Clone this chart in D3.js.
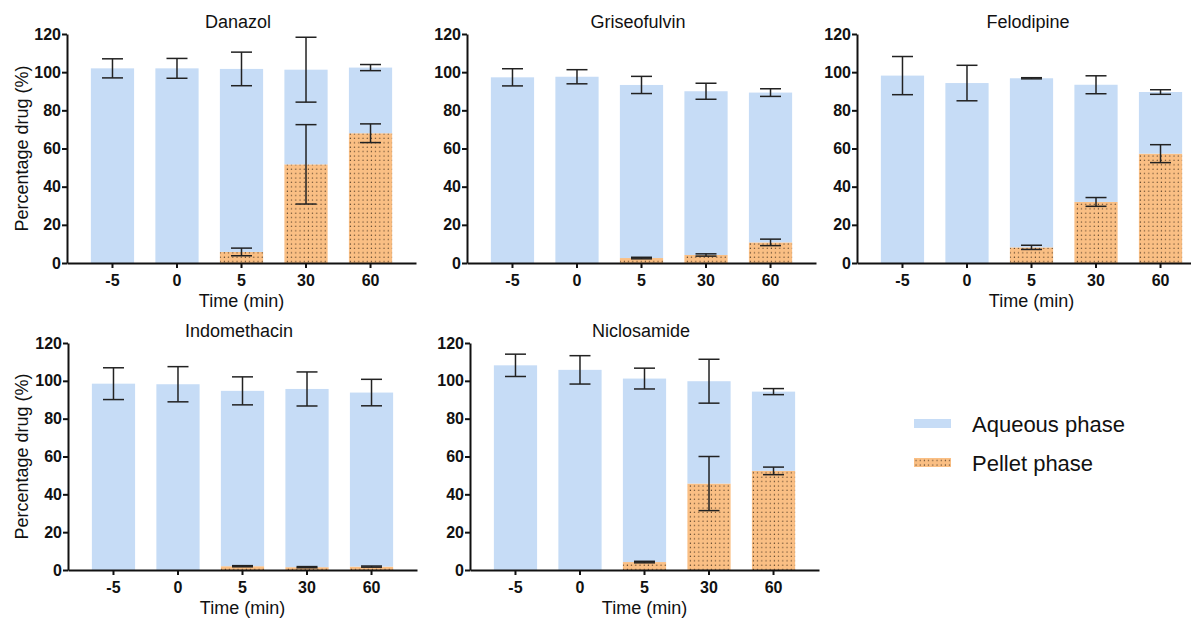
<!DOCTYPE html>
<html>
<head>
<meta charset="utf-8">
<script src="https://cdn.jsdelivr.net/npm/d3@7"></script>
<style>
  body { margin: 0; background: #fff; }
  text { font-family: "Liberation Sans", Arial, sans-serif; fill: #111; }
</style>
</head>
<body>
<script>
// categories
var times = ["-5", "0", "5", "30", "60"];
var drugs = ["Danazol", "Griseofulvin", "Felodipine", "Indomethacin", "Niclosamide"];

// mean values (%), one row per drug
var aqueousMean = [
  [102.0, 102.0, 95.9, 49.6, 34.4],
  [97.3, 97.6, 90.7, 85.8, 78.5],
  [98.2, 94.3, 88.6, 61.4, 32.3],
  [98.5, 98.2, 92.7, 94.2, 92.0],
  [108.2, 105.8, 97.0, 54.1, 41.9]
];
var pelletMean = [
  [0, 0, 5.8, 51.7, 68.0],
  [0, 0, 2.6, 4.2, 10.8],
  [0, 0, 8.2, 32.0, 57.3],
  [0, 0, 2.0, 1.5, 1.8],
  [0, 0, 4.2, 45.7, 52.4]
];
// standard deviations (error bars)
var aqueousSd = [
  [5.0, 5.2, 8.8, 17.0, 1.6],
  [4.5, 3.7, 4.5, 4.2, 2.0],
  [10.0, 9.3, 0.3, 4.7, 1.2],
  [8.4, 9.3, 7.4, 9.0, 7.0],
  [5.9, 7.5, 5.5, 11.6, 1.6]
];
var pelletSd = [
  [0, 0, 2.0, 20.8, 4.9],
  [0, 0, 0.4, 0.6, 1.7],
  [0, 0, 1.1, 2.3, 4.7],
  [0, 0, 0.3, 0.3, 0.3],
  [0, 0, 0.4, 14.3, 2.0]
];
var yTicks = [0, 20, 40, 60, 80, 100, 120];
var legendLabels = ["Aqueous phase", "Pellet phase"];

// layout
var panelLeft = [67, 467, 857, 68, 470];
var panelRow = [0, 0, 0, 1, 1];
var rowBottom = [263, 570], rowTop = [34, 343];
var showYLabel = [true, false, false, true, false];
var showXLabel = [true, false, true, true, true];

var blue = "#c6dcf6", orange = "#fabf84";

var svg = d3.select("body").append("svg")
    .attr("width", 1191)
    .attr("height", 620);

// dotted fill for the pellet bars
var pat = svg.append("defs").append("pattern")
    .attr("id", "dots")
    .attr("patternUnits", "userSpaceOnUse")
    .attr("width", 4.2).attr("height", 4.4);
pat.append("rect").attr("width", 4.2).attr("height", 4.4).attr("fill", orange);
pat.append("circle").attr("cx", 2).attr("cy", 2).attr("r", 0.65).attr("fill", "#4a3622");

var x = d3.scaleBand().domain(times).range([0, 349])
    .paddingInner(0.33).paddingOuter(0.37);

var stack = d3.stack().keys(["pellet", "aqueous"]);

drugs.forEach(function(drug, i) {
  var row = panelRow[i];
  var y = d3.scaleLinear().domain([0, 120]).range([rowBottom[row], rowTop[row]]);
  var g = svg.append("g").attr("transform", "translate(" + panelLeft[i] + ",0)");

  var table = times.map(function(t, j) {
    return { time: t, pellet: pelletMean[i][j], aqueous: aqueousMean[i][j] };
  });
  var series = stack(table);

  g.selectAll("g.layer")
    .data(series)
    .enter().append("g")
      .attr("class", "layer")
      .attr("fill", function(d) { return d.key == "pellet" ? "url(#dots)" : blue; })
    .selectAll("rect")
    .data(function(d) { return d; })
    .enter().append("rect")
      .attr("x", function(d) { return x(d.data.time); })
      .attr("width", x.bandwidth())
      .attr("y", function(d) { return y(d[1]); })
      .attr("height", function(d) { return y(d[0]) - y(d[1]); });

  // error bars
  var errs = [];
  times.forEach(function(t, j) {
    var p = pelletMean[i][j], a = aqueousMean[i][j];
    errs.push({ time: t, mid: p + a, sd: aqueousSd[i][j] });
    if (pelletSd[i][j] > 0) errs.push({ time: t, mid: p, sd: pelletSd[i][j] });
  });
  var cap = 10.5;
  var eb = g.selectAll("g.err").data(errs).enter().append("g")
      .attr("class", "err")
      .attr("stroke", "#222")
      .attr("stroke-width", 1.5);
  eb.append("line")
      .attr("x1", function(d) { return x(d.time) + x.bandwidth() / 2; })
      .attr("x2", function(d) { return x(d.time) + x.bandwidth() / 2; })
      .attr("y1", function(d) { return y(d.mid + d.sd); })
      .attr("y2", function(d) { return y(d.mid - d.sd); });
  eb.append("line")
      .attr("x1", function(d) { return x(d.time) + x.bandwidth() / 2 - cap; })
      .attr("x2", function(d) { return x(d.time) + x.bandwidth() / 2 + cap; })
      .attr("y1", function(d) { return y(d.mid + d.sd); })
      .attr("y2", function(d) { return y(d.mid + d.sd); });
  eb.append("line")
      .attr("x1", function(d) { return x(d.time) + x.bandwidth() / 2 - cap; })
      .attr("x2", function(d) { return x(d.time) + x.bandwidth() / 2 + cap; })
      .attr("y1", function(d) { return y(d.mid - d.sd); })
      .attr("y2", function(d) { return y(d.mid - d.sd); });

  // axes
  var xa = g.append("g")
      .attr("transform", "translate(0," + rowBottom[row] + ")")
      .call(d3.axisBottom(x).tickSize(5).tickSizeOuter(0).tickPadding(7));
  var ya = g.append("g")
      .call(d3.axisLeft(y).tickValues(yTicks).tickSize(5).tickSizeOuter(0).tickPadding(1));
  [xa, ya].forEach(function(a) {
    a.select(".domain").attr("stroke", "#111").attr("stroke-width", 2);
    a.selectAll(".tick line").attr("stroke", "#111").attr("stroke-width", 2);
    a.selectAll(".tick text")
      .style("font-family", '"Liberation Sans", Arial, sans-serif')
      .style("font-size", "16px")
      .style("font-weight", "bold")
      .attr("fill", "#111");
  });

  g.append("text")
      .attr("x", 171)
      .attr("y", rowTop[row] - 6)
      .attr("text-anchor", "middle")
      .style("font-size", "18px")
      .text(drug);

  if (showXLabel[i]) {
    g.append("text")
        .attr("x", x("5") + x.bandwidth() / 2)
        .attr("y", rowBottom[row] + 44)
        .attr("text-anchor", "middle")
        .style("font-size", "18px")
        .text("Time (min)");
  }
  if (showYLabel[i]) {
    g.append("text")
        .attr("transform", "translate(" + (22 - panelLeft[i] + 6) + "," + ((rowTop[row] + rowBottom[row]) / 2) + ") rotate(-90)")
        .attr("text-anchor", "middle")
        .style("font-size", "18px")
        .text("Percentage drug (%)");
  }
});

// legend
var legend = svg.append("g").attr("transform", "translate(914,419)");
legendLabels.forEach(function(lab, k) {
  legend.append("rect")
      .attr("x", 0).attr("y", k * 39)
      .attr("width", 37).attr("height", 9)
      .attr("fill", k == 0 ? blue : "url(#dots)");
  legend.append("text")
      .attr("x", 58).attr("y", k * 39 + 13)
      .style("font-size", "22px")
      .text(lab);
});
</script>
</body>
</html>
